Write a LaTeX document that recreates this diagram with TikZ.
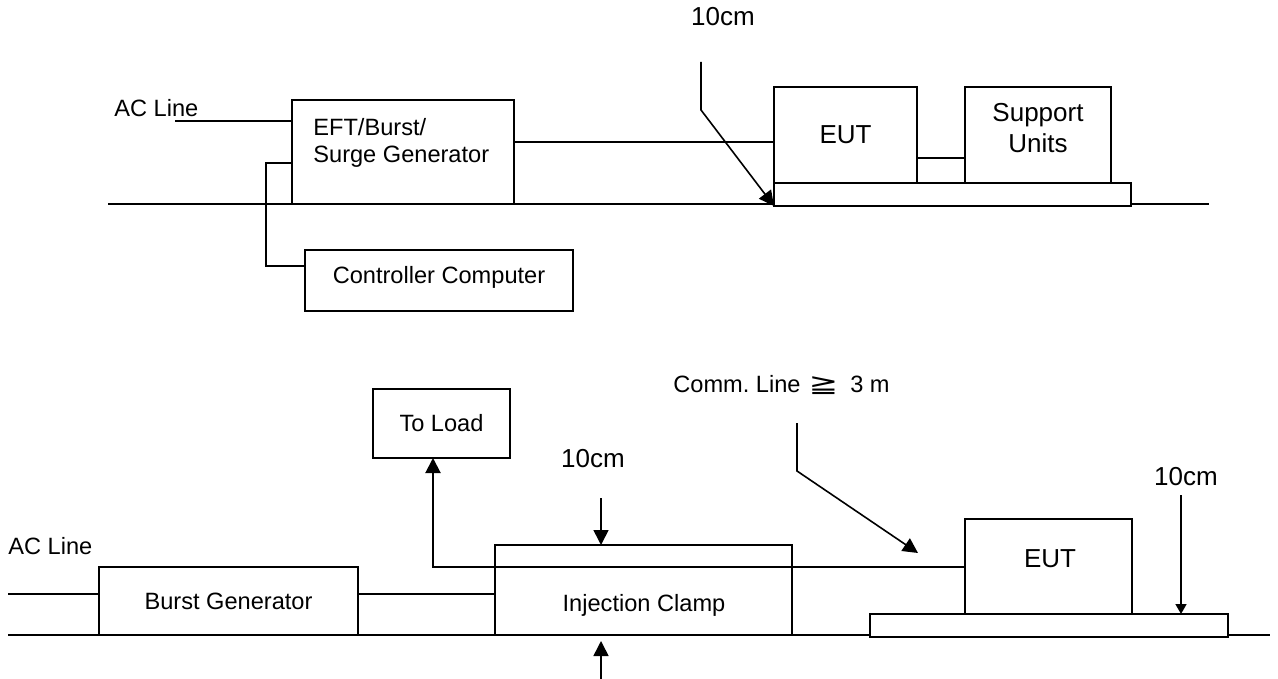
\documentclass[tikz,border=0pt]{standalone}
\usepackage{fontspec}
\setmainfont{Liberation Sans}
\newfontfamily\geqfont{DejaVu Sans}
\usetikzlibrary{arrows.meta}
\newcommand{\lblsize}{\fontsize{11.8}{13.3}\selectfont}
\newcommand{\bigsize}{\fontsize{13}{15.5}\selectfont}

\begin{document}
\begin{tikzpicture}[>={Triangle[length=7.5pt,width=7.5pt]}, x=0.5pt, y=-0.5pt, font=\lblsize,
    unitbox/.style={draw, line width=1pt, fill=white, inner sep=0pt, outer sep=0pt, anchor=north west},
    lbl/.style={inner sep=0pt, anchor=base},
    wire/.style={line width=1pt},
    pointer/.style={line width=0.8pt, ->},
    shortarrow/.style={line width=0.8pt, -{Triangle[length=5pt,width=5.5pt]}}]
  \useasboundingbox (0,0) rectangle (1278,679);
  % (top) generator on the ground plane, EUT and support units on the table
  \begin{scope}
    \coordinate (gndAl) at (108,204);
    \coordinate (gndAr) at (1209,204);
    \draw[wire] (gndAl) -- (gndAr);
    \node[unitbox, minimum width=111pt, minimum height=52pt] (gen) at (292,100) {};
    \node[lbl, anchor=north west, align=left] (gentxt) at (313,118) {EFT/Burst/\\Surge Generator};
    \node[unitbox, minimum width=134pt, minimum height=30.5pt] (ctrl) at (305,250) {};
    \node[lbl] (ctrltxt) at (439,283) {Controller Computer};
    \node[unitbox, minimum width=178.5pt, minimum height=11.5pt] (benchA) at (774,183) {};
    \node[unitbox, minimum width=71.5pt, minimum height=48pt, font=\bigsize] (eutA) at (774,87) {EUT};
    \node[unitbox, minimum width=73pt, minimum height=48pt] (sup) at (965,87) {};
    \node[inner sep=0pt, align=center, font=\bigsize] (suptxt) at (1038,128) {Support\\Units};
    \node[lbl, anchor=base west] (acA) at (114,117) {AC Line};
    \coordinate (acAin) at (175,121);
    \draw[wire] (acAin) -- (acAin -| gen.west);
    \draw[wire] (gen.east |- 0,142) -- (eutA.west |- 0,142);
    \draw[wire] (gen.west |- 0,163) -- (266,163) |- (ctrl.west |- 0,266);
    \draw[wire] (eutA.east |- 0,158) -- (sup.west |- 0,158);
    \node[lbl, font=\bigsize] (tenA) at (723,26) {10cm};
    \coordinate (ptrA) at (701,62);
    \draw[pointer] (ptrA) -- (701,110) -- (benchA.south west);
  \end{scope}
  % (bottom) burst generator, injection clamp and EUT on the table
  \begin{scope}
    \coordinate (gndBl) at (8,635);
    \coordinate (gndBr) at (1270,635);
    \draw[wire] (gndBl) -- (gndBr);
    \node[unitbox, minimum width=129.5pt, minimum height=34pt] (burst) at (99,567) {Burst Generator};
    \node[unitbox, minimum width=148.5pt, minimum height=45pt] (clamp) at (495,545) {};
    \node[lbl] (clamptxt) at (644,611) {Injection Clamp};
    \node[unitbox, minimum width=68.5pt, minimum height=34.5pt] (load) at (373,389) {To Load};
    \node[unitbox, minimum width=179pt, minimum height=11.5pt] (benchB) at (870,614) {};
    \node[unitbox, minimum width=83.5pt, minimum height=47.5pt] (eutB) at (965,519) {};
    \node[lbl, font=\bigsize] (eutBtxt) at (1050,567) {EUT};
    \node[lbl, anchor=base west] (acB) at (8,554) {AC Line};
    \coordinate (acBin) at (8,594);
    \draw[wire] (acBin) -- (acBin -| burst.west);
    \draw[wire] (burst.east |- 0,594) -- (clamp.west |- 0,594);
    \draw[wire, ->] (eutB.west |- 0,567) -- (433,567) -- (433,0 |- load.south);
    \node[lbl, font=\bigsize] (tenB) at (593,467) {10cm};
    \coordinate (ptrB) at (601,498);
    \draw[pointer] (ptrB) -- (ptrB |- clamp.north);
    \coordinate (ptrC) at (601,679);
    \draw[pointer] (ptrC) -- ([yshift=-3pt]ptrC |- clamp.south);
    \node[lbl, anchor=base west] (comm) at (673,392) {Comm.\ Line\hspace{4pt}\scalebox{1.5}[1.05]{\geqfont ≧}\hspace{6pt}3 m};
    \coordinate (ptrD) at (797,423);
    \coordinate (ptrDend) at (918,553);
    \draw[pointer] (ptrD) -- (797,471) -- (ptrDend);
    \node[lbl, font=\bigsize] (tenC) at (1186,485) {10cm};
    \coordinate (ptrE) at (1181,495);
    \draw[shortarrow] (ptrE) -- (ptrE |- benchB.north);
  \end{scope}
\end{tikzpicture}
\end{document}
